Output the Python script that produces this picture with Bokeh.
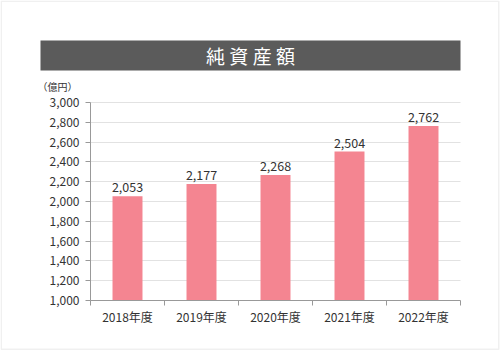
from bokeh.plotting import figure
from bokeh.models import ColumnDataSource, FixedTicker, BoxAnnotation, Label, Range1d
from bokeh.core.properties import value
from bokeh.embed import file_html
from bokeh.resources import INLINE

categories = ["2018年度", "2019年度", "2020年度", "2021年度", "2022年度"]
values = [2053, 2177, 2268, 2504, 2762]
y_ticks = [1000, 1200, 1400, 1600, 1800, 2000, 2200, 2400, 2600, 2800, 3000]
title_text = "純 資 産 額"
unit_text = "（億円）"

FONT = "Noto Sans CJK JP"
W, H = 500, 351
# plot area in canvas pixels
PL, PR, PT, PB = 90, 460, 102, 300
N = len(categories)
YMIN, YMAX = 1000, 3000

# ranges chosen so that the data area lands on the plot area while the
# frame covers the whole canvas (for the header / border decorations)
xpx = (PR - PL) / N
ypx = (YMAX - YMIN) / (PB - PT)
x_range = Range1d(-PL / xpx, N + (W - PR) / xpx)
y_range = Range1d(YMIN - (H - PB) * ypx, YMAX + PT * ypx)

xs = [i + 0.5 for i in range(N)]
src = ColumnDataSource(dict(x=xs, top=values, label=[f"{v:,}" for v in values]))

p = figure(width=W, height=H, output_backend="svg", toolbar_location=None,
           x_range=x_range, y_range=y_range,
           min_border=0, min_border_left=0, min_border_right=0,
           min_border_top=0, min_border_bottom=0)
p.title.visible = False
p.outline_line_color = None
p.background_fill_color = "white"
p.border_fill_color = "white"

p.vbar(x="x", top="top", bottom=YMIN, width=0.405, source=src,
       fill_color="#F48591", line_color=None)
p.text(x="x", y="top", text="label", source=src, text_align="center",
       text_baseline="bottom", y_offset=-4, text_font=value(FONT),
       text_font_size="12.5px", text_color="#333333")

# axes
xa = p.xaxis[0]
xa.fixed_location = YMIN
xa.bounds = (0, N)
xa.ticker = FixedTicker(ticks=xs, minor_ticks=list(range(N + 1)))
xa.major_label_overrides = {x: c for x, c in zip(xs, categories)}
xa.major_tick_line_color = None
xa.major_tick_in = 0
xa.major_tick_out = 0
xa.minor_tick_line_color = "#999999"
xa.minor_tick_in = 0
xa.minor_tick_out = 5
xa.axis_line_color = "#999999"
xa.major_label_text_font = FONT
xa.major_label_text_font_size = "12px"
xa.major_label_text_color = "#333333"
xa.major_label_standoff = 2

ya = p.yaxis[0]
ya.fixed_location = 0
ya.bounds = (YMIN, YMAX)
ya.ticker = FixedTicker(ticks=y_ticks)
ya.major_label_overrides = {t: f"{t:,}" for t in y_ticks}
ya.minor_tick_line_color = None
ya.major_tick_line_color = "#999999"
ya.major_tick_in = 0
ya.major_tick_out = 5
ya.axis_line_color = "#999999"
ya.major_label_text_font = FONT
ya.major_label_text_font_size = "12px"
ya.major_label_text_color = "#333333"
ya.major_label_standoff = 6

p.xgrid.grid_line_color = None
p.ygrid.grid_line_color = "#e2e2e2"
p.ygrid.cross_bounds = (0, N)
p.ygrid.ticker = FixedTicker(ticks=y_ticks[1:])

# decorations in screen units (frame == canvas, y measured from bottom)
def sy(cy):
    return H - cy

outer = BoxAnnotation(left=0.75, right=W - 1.75, top=sy(0.75), bottom=sy(H - 2.25),
                      left_units="screen", right_units="screen", top_units="screen",
                      bottom_units="screen", fill_color=None, fill_alpha=0,
                      line_color="#cccccc", line_width=1.5)
p.add_layout(outer)

bar = BoxAnnotation(left=40, right=460, top=sy(40), bottom=sy(70),
                    left_units="screen", right_units="screen", top_units="screen",
                    bottom_units="screen", fill_color="#5b5b5b", fill_alpha=1,
                    line_color=None)
p.add_layout(bar)

p.add_layout(Label(x=250, y=sy(55), x_units="screen", y_units="screen",
                   text=title_text, text_align="center", text_baseline="middle",
                   text_font=FONT, text_font_size="19px", text_color="white"))
p.add_layout(Label(x=57, y=sy(86), x_units="screen", y_units="screen",
                   text=unit_text, text_align="center", text_baseline="middle",
                   text_font=FONT, text_font_size="10px", text_color="#333333"))

open("out.html", "w").write(file_html(p, INLINE))
